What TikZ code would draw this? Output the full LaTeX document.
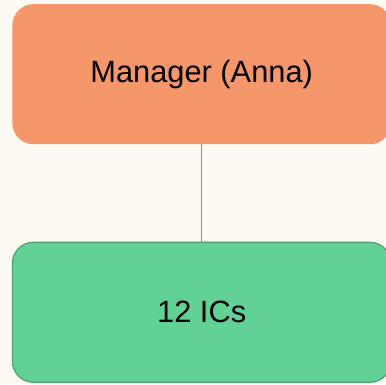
\documentclass[tikz,border=0pt]{standalone}
\usepackage{fontspec}
\setmainfont{Liberation Sans}
\definecolor{bgc}{HTML}{FDFAF3}
\definecolor{mgrfill}{HTML}{F5966B}
\definecolor{icfill}{HTML}{62D196}
\definecolor{icdraw}{HTML}{4F9E72}
\definecolor{linec}{HTML}{8A8A8A}
\begin{document}
\begin{tikzpicture}[x=1pt,y=-1pt,
  box/.style={rectangle, rounded corners=21pt, minimum width=378.6pt, minimum height=140pt, inner sep=0pt, font=\fontsize{30.8}{36}\selectfont, text=black},
  mgr/.style={box, fill=mgrfill},
  ics/.style={box, fill=icfill, draw=icdraw, line width=1.2pt},
  conn/.style={draw=linec, line width=1.2pt}]
\useasboundingbox (0,0) rectangle (386,384);
\fill[bgc] (0,0) rectangle (386,384);
\clip (0,0) rectangle (386,384);
\node[mgr] (m) at (201.7,74.2) {Manager (Anna)};
\node[ics] (i) at (201.7,312.3) {12 ICs};
\draw[conn] (m.south) -- (i.north);
\end{tikzpicture}
\end{document}
